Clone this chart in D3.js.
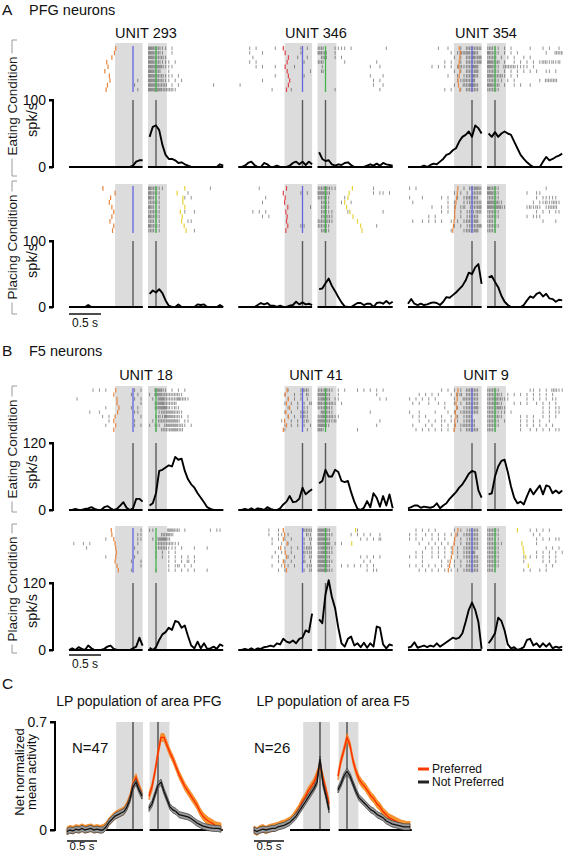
<!DOCTYPE html>
<html><head><meta charset="utf-8">
<script src="https://cdn.jsdelivr.net/npm/d3@7"></script>
<style>body{margin:0;background:#fff}svg{display:block}</style>
</head><body><svg id="chart" width="563" height="853"></svg>
<script>
// ---------- time grids (s) ----------
const tA1 = [-1.0,-0.95,-0.9,-0.85,-0.8,-0.75,-0.7,-0.65,-0.6,-0.55,-0.5,-0.45,-0.4,-0.35,-0.3,-0.25,-0.2,-0.15,-0.1,-0.05,0,0.05,0.1,0.15];
const tA2 = [-0.1,-0.05,0,0.05,0.1,0.15,0.2,0.25,0.3,0.35,0.4,0.45,0.5,0.55,0.6,0.65,0.7,0.75,0.8,0.85,0.9,0.95,1.0,1.05];
const tC1 = [-1.1,-1.05,-1.0,-0.95,-0.9,-0.85,-0.8,-0.75,-0.7,-0.65,-0.6,-0.55,-0.5,-0.45,-0.4,-0.35,-0.3,-0.25,-0.2,-0.15,-0.1,-0.05,0,0.05,0.1,0.15];
const tC2 = [-0.15,-0.1,-0.05,0,0.05,0.1,0.15,0.2,0.25,0.3,0.35,0.4,0.45,0.5,0.55,0.6,0.65,0.7,0.75,0.8,0.85,0.9,0.95,1.0,1.05];

// ---------- PSTH (spk/s) panel A ----------
const u293E1 = [0,0,0,0,0,0,0,0,0,0,0,0,0,0,0,0,0,0,0,0,2,8,10,10];
const u293E2 = [45,60,62,55,33,18,12,12,10,6,7,4,2,0,0,0,0,0,0,0,0,0,4,2];
const u346E1 = [0,0,2,6,8,3,0,0,6,4,0,0,2,0,0,0,2,6,8,4,8,3,8,4];
const u346E2 = [22,12,9,10,4,2,4,3,6,7,3,0,0,0,0,2,4,2,5,2,6,4,3,2];
const u354E1 = [0,0,0,0,0,2,0,3,5,4,8,12,18,20,25,28,38,45,48,53,45,62,58,50];
const u354E2 = [50,45,52,45,50,53,50,48,38,28,18,12,7,3,0,0,0,8,15,10,12,15,17,20];
const u293P1 = [0,0,0,0,0,0,3,0,0,0,0,0,0,0,0,0,0,0,0,0,0,0,0,0];
const u293P2 = [20,25,22,27,21,10,2,0,0,4,0,0,0,0,0,4,3,4,0,0,0,0,3,0];
const u346P1 = [0,0,0,0,0,0,3,6,4,6,2,2,0,2,0,0,2,3,8,4,7,4,5,3];
const u346P2 = [27,28,36,43,32,24,15,7,1,0,0,3,6,6,3,5,5,0,6,7,5,9,5,8];
const u354P1 = [5,12,5,3,5,3,4,6,7,6,3,8,15,14,18,22,27,32,40,52,50,60,65,35];
const u354P2 = [45,47,38,30,17,8,3,0,0,0,0,3,10,16,14,20,22,16,20,13,12,8,11,10];
// ---------- PSTH (spk/s) panel B ----------
const u18E1 = [0,0,2,0,0,2,3,5,2,0,0,5,7,3,0,2,8,14,4,0,3,20,20,15];
const u18E2 = [8,12,30,70,72,76,80,78,95,90,92,70,55,46,40,30,22,14,5,2,0,0,0,0];
const u41E1 = [0,0,2,0,3,0,3,2,0,5,2,0,0,3,10,15,25,14,15,20,40,28,33,37];
const u41E2 = [48,52,72,60,60,72,68,52,50,52,32,15,2,0,4,16,5,30,22,6,25,8,28,3];
const u9E1 = [3,5,8,8,4,6,5,4,6,12,3,8,12,20,26,32,40,46,55,65,70,68,35,22];
const u9E2 = [28,30,60,78,88,90,68,42,22,12,15,10,25,38,28,36,44,28,44,42,30,35,30,35];
const u18P1 = [0,3,0,5,2,0,8,3,0,0,0,2,6,8,2,0,0,0,0,0,3,6,22,8];
const u18P2 = [4,0,5,18,28,32,40,36,52,50,40,44,25,8,3,15,3,12,2,3,6,2,10,7];
const u41P1 = [0,0,2,0,3,0,3,2,5,6,8,6,12,10,20,15,13,17,12,20,22,35,32,65];
const u41P2 = [55,48,100,125,95,75,40,12,6,20,24,8,12,5,13,4,12,6,42,40,10,3,10,8];
const u9P1 = [4,6,14,4,6,8,5,8,6,12,6,10,14,18,22,20,22,30,50,72,85,72,50,2];
const u9P2 = [12,20,30,58,52,35,10,3,5,0,2,5,18,20,8,12,5,12,6,12,3,6,4,6];

// ---------- rasters: one string per trial, one char per 50 ms bin (digit = spikes) ----------
const r293E1 = [".......................",".......................",".......................",".......................",".......................",".......................",".......................",".....................1.","....................1..",".....................1."];
const r293E2 = ["332211.1","33221..1","332221","3322111.1","33332111","3322..1","33322111.1","3332211.1.1","333222.1.1..........1","333322221"];
const r346E1 = ["...1.1.....1.......1.1.","...1...1...........1...","....1.............1..1.","...1.1..............1..",".....1.1...1.....1.....","......................1","...........1........1..",".......1...............","1......................","..........1.....1......"];
const r346E2 = ["22...1111.1..........1","322..1",".22..1.1","221.....1.........1",".1..............1..1",".21","..1.............1...1","..1..............1.1","..1..............1..1",".....1.............1"];
const r354E1 = [".........1..1...1.22222",".............1.1223232.","..............1.1.22323","...........1.1..1.22223",".......1.1.1.1.1212233","..............1.1.2223","............1..1.12232","...............112223","..............1..22332","...........1.1..1.2222"];
const r354E2 = ["2211.1.1.....1...1.1..1","3221.1.1.1........1..222","222.1.1.1..1.1","3322.1..1.1.1.1.1221212","3321.22221111.1","2221.1.1.1.1.1.1..11.1","332221.1.1","22211.1.1.......1.2222","3322.1..1.1..1","2221"];
const r293P1 = [".......................",".......................",".......................",".......................",".......................",".......................",".......................",".......................",".......................","......................."];
const r293P2 = ["32211..............1","3221........1","3211.......1.1","2221","3211","2221.......1..1","3221","2211........11","3221","2211..........1"];
const r346P1 = ["......1................","...................1.1.","........1..............",".......1...............","......................1","....1.1.1..............",".......1.1.............",".......................","...................11..","......................."];
const r346P2 = ["222211...........1","3322.............1.11.1","2221....1",".221...1..1",".221",".2211....1..........1",".2221","22221","2221..............1",".221"];
const r354P1 = ["1.1..............1.2232","..............1.1.1.222","1...1.....1.1..1.12222",".1..........1.1..112222",".......1..1.1.1.12.1223","..........1.1.1.1.12122","......1.1.....1.1.1222",".1..1.1.1.1..1.1.12223","..............1.1.12223",".............1...12223"];
const r354P2 = ["3221..............1","3321........1..11","2221...........1.11111","33321.........1.1121221","333321......12121.1222","2221...........1.1.1.11","2221........1.111","221..............1...1","2221","221"];
const r18E1 = [".......1.1.1........1.1","...................1.1","..1.................1.1","......................1","...........1.......1.1.","......1..1..........11.","..........1.1.........1","............1.......1..","...........1........1.1","......................."];
const r18E2 = ["..3321.1.1.1","1.332222221",".1.3322223221","..2332222","..23332121","...12233221","..121333221.1",".1.2223332.11","1.21.2333221.1","..1.2223322"];
const r41E1 = ["...............1...122","..............1..1.1.2","...............1.1.1.1","..............1.1.1.1.2","...............1..1.11","..............1.1..121","...............1.1.121",".............1..1.1.12","..............1.1.1.1.1","..............1......1"];
const r41E2 = ["22221.1.1...1.1.1.1.1","3322..1...........1","2332.11............1.1","323221.1","22321",".3221...........1","2332211","332212.............1","3321..............1","321.........1"];
const r9E1 = ["..........1.1.1.1.2222","...1.1.1.1...1.12.2222","1.1.1.1.1.....1..22222",".1.1..1..1.1..1.1.2222","...........1...1.12223","1..1....1...1.1.122222",".1.1.1....1..1.1.122","...1..1.1.11.1.1.1222",".1...1.1..1.1.1.12222","..1.1.1.1.1.1.1.1.2222"];
const r9E2 = ["2221.........11.1.1.2211","22221.1.1.1.1.1.1.1.1","2232211.....1.1.1.1.11","22321...1.1.1..1.1.1.1","222321...........1.1.11","222111.1.........1.1.11","22221.....1.1.1..1.1.1","2221.1....1.1.1.1..1","2221......1.1.1.1.1.1","221.......1..1.1.1.1.11"];
const r18P1 = ["......................1",".....................11","...........1.........11",".1..1.1..............1",".....1..............1.",".....................1","...........1........1..","...................1..1","......................1","...................1..."];
const r18P2 = ["11....3322.1.......1.11","....2232.................1",".1.3332","..12222211","..1222111.1...1...1","..1.1.1.1","..1.1.1.1.1.1.1","......1.1.1.2.1","......1.12.1.1","..1...1.1.1.1.1...1"];
const r41P1 = [".........1..1.......222",".........1..11.1.....21","..........1.1.1.1...1.2","..........1..1.1....1.1","............1.1.1.1.122","...........1.1..1...212","..........1.1..1.1..1.2","............1.1.1...2.1","..........1..1.1.1...12","............1.1.....1.2"];
const r41P2 = ["3322........1","33221.....1.1.1.1..1","3332.........1.1.1.2","3333.1.1","23321","23321","3322.........1.1.1.1","33321.........1.1","3332...1.1.1.1.1.1","33321..........1.11"];
const r9P1 = ["..1.1.1.1.....1.1.1222","1.1..1.1.1.1.1.1.12222","1.1.1..1.1.1..1.1.1222","...1..1.1.1.1.1.1.2222",".....1.1.1.1.1.1.12222","..1.1..1.1.1.1.1.1223","1.1.1..1.1.1.1.1.12222","....1.....1.1.1.1.1222","1.1.1.1.1.1.1.1.1.2222","...1.1.1.1.1.1.1.12222"];
const r9P2 = ["2221.........1.1.1.1","2221..........1.1","2211...........1.1.1.11","22211..........1","2221..............1.1.1","2221...........1.1.1.1.1","2221.......1.1.1.1.1.1","2221.......1.....1.1.1","2221..............1.1","221........1.1..1.1"];

// ---------- behavioural event times per trial (s) ----------
const ev293E = [-0.27,-0.29,-0.33,-0.41,-0.39,-0.44,-0.37,-0.36,-0.4,-0.42];
const ev293P = [-0.47,-0.28,-0.35,-0.37,-0.33,-0.3,-0.33,-0.36,-0.3,-0.32];
const ev346E = [-0.3,-0.27,-0.22,-0.24,-0.27,-0.24,-0.22,-0.2,-0.22,-0.25];
const ev346P = [-0.25,-0.3,-0.27,-0.28,-0.23,-0.26,-0.24,-0.25,-0.23,-0.26];
const ev354E = [-0.2,-0.18,-0.19,-0.2,-0.21,-0.19,-0.2,-0.22,-0.21,-0.19];
const ev354P = [-0.22,-0.23,-0.24,-0.25,-0.26,-0.27,-0.27,-0.28,-0.29,-0.3];
const ev18E = [-0.27,-0.3,-0.25,-0.25,-0.22,-0.24,-0.28,-0.3,-0.27,-0.3];
const ev18P = [-0.34,-0.33,-0.3,-0.28,-0.27,-0.26,-0.27,-0.28,-0.25,-0.23];
const ev41E = [-0.24,-0.27,-0.22,-0.25,-0.2,-0.26,-0.22,-0.28,-0.25,-0.3];
const ev41P = [-0.3,-0.28,-0.3,-0.24,-0.34,-0.27,-0.25,-0.3,-0.28,-0.25];
const ev9E = [-0.22,-0.24,-0.23,-0.25,-0.24,-0.26,-0.25,-0.27,-0.26,-0.28];
const ev9P = [-0.22,-0.25,-0.27,-0.28,-0.3,-0.3,-0.32,-0.34,-0.35,-0.37];
const yel293P = [0.45,0.33,0.42,0.42,0.45,0.38,0.41,0.4,0.44,0.47];
const yel346P = [0.42,0.37,0.35,0.3,0.33,0.38,0.43,0.5,0.55,0.57];
const yel41P = [0.47,null,null,0.41,null,null,null,null,null,null];
const yel9P = [0.35,null,null,0.42,0.44,0.45,0.48,null,0.52,null];

// ---------- panel C population (net normalized) ----------
const pfgPref1 = [-0.005,0.005,0,0.01,0.005,0.015,0.005,0.01,0.015,0.005,0.01,0.005,0.01,0.025,0.055,0.075,0.095,0.105,0.115,0.125,0.16,0.21,0.3,0.34,0.28,0.23];
const pfgNon1  = [-0.01,0,-0.005,0.005,0,0.01,0,0.005,0.01,0,0.005,0,0,0.02,0.05,0.07,0.09,0.1,0.11,0.12,0.15,0.2,0.28,0.31,0.26,0.22];
const pfgPref2 = [0.22,0.28,0.38,0.5,0.6,0.6,0.55,0.5,0.46,0.41,0.36,0.32,0.28,0.25,0.22,0.19,0.16,0.12,0.09,0.07,0.055,0.045,0.03,0.025,0.02];
const pfgNon2  = [0.14,0.17,0.23,0.29,0.31,0.25,0.2,0.15,0.13,0.12,0.1,0.095,0.09,0.085,0.075,0.06,0.045,0.035,0.025,0.02,0.015,0.012,0.01,0.01,0.005];
const f5Pref1 = [0,-0.01,0.005,0.01,0,0.01,0.015,0.02,0.025,0.035,0.04,0.05,0.06,0.08,0.11,0.14,0.18,0.21,0.25,0.28,0.31,0.36,0.42,0.34,0.26,0.17];
const f5Non1  = [0,-0.01,0,0.005,0,0.005,0.01,0.01,0.02,0.025,0.03,0.04,0.05,0.07,0.09,0.12,0.15,0.18,0.21,0.24,0.27,0.31,0.46,0.3,0.22,0.13];
const f5Pref2 = [0.35,0.45,0.52,0.6,0.55,0.45,0.38,0.33,0.3,0.28,0.25,0.22,0.2,0.17,0.15,0.12,0.1,0.08,0.07,0.06,0.05,0.04,0.035,0.03,0.03];
const f5Non2  = [0.26,0.3,0.35,0.38,0.35,0.3,0.25,0.21,0.19,0.17,0.15,0.13,0.12,0.1,0.09,0.08,0.06,0.05,0.04,0.035,0.03,0.025,0.02,0.02,0.02];
const semPref = 0.025, semNon = 0.02;

const unitNamesA = ["UNIT 293","UNIT 346","UNIT 354"];
const unitNamesB = ["UNIT 18","UNIT 41","UNIT 9"];
const legendLabels = ["Preferred","Not Preferred"];

// ================= drawing =================
const svg = d3.select('#chart');
const FONT = "'Liberation Sans', Arial, Helvetica, sans-serif";
const ORANGE = '#e8843f', RED = '#e0444a', BLUE = '#6464dc', GREEN = '#46b24e', YELLOW = '#e6d23a';

function addText(x, y, str, size, anchor, rot, fill) {
  const t = svg.append('text').attr('font-family', FONT).attr('font-size', size)
    .attr('text-anchor', anchor || 'start').attr('fill', fill || '#111').text(str);
  if (rot) t.attr('transform', `translate(${x},${y}) rotate(${rot})`);
  else t.attr('x', x).attr('y', y);
  return t;
}
function bracket(y0, y1, cy, label) {
  const t = addText(17, cy, label, 13.5, 'middle', -90, '#1a1a1a');
  const len = t.node().getComputedTextLength();
  const a = cy - len / 2 - 3, b = cy + len / 2 + 3;
  svg.append('path').attr('d', `M17,${y0} H12 V${a} M12,${b} V${y1} H17`)
    .attr('fill', 'none').attr('stroke', '#9a9a9a').attr('stroke-width', 1);
}

const unitsA = [
  { eat: {p1: u293E1, p2: u293E2, r1: r293E1, r2: r293E2, ev: ev293E, evc: ORANGE, yel: null},
    place: {p1: u293P1, p2: u293P2, r1: r293P1, r2: r293P2, ev: ev293P, evc: ORANGE, yel: yel293P}},
  { eat: {p1: u346E1, p2: u346E2, r1: r346E1, r2: r346E2, ev: ev346E, evc: RED, yel: null},
    place: {p1: u346P1, p2: u346P2, r1: r346P1, r2: r346P2, ev: ev346P, evc: RED, yel: yel346P}},
  { eat: {p1: u354E1, p2: u354E2, r1: r354E1, r2: r354E2, ev: ev354E, evc: ORANGE, yel: null},
    place: {p1: u354P1, p2: u354P2, r1: r354P1, r2: r354P2, ev: ev354P, evc: ORANGE, yel: null}}
];
const unitsB = [
  { eat: {p1: u18E1, p2: u18E2, r1: r18E1, r2: r18E2, ev: ev18E, evc: ORANGE, yel: null},
    place: {p1: u18P1, p2: u18P2, r1: r18P1, r2: r18P2, ev: ev18P, evc: ORANGE, yel: null}},
  { eat: {p1: u41E1, p2: u41E2, r1: r41E1, r2: r41E2, ev: ev41E, evc: ORANGE, yel: null},
    place: {p1: u41P1, p2: u41P2, r1: r41P1, r2: r41P2, ev: ev41P, evc: ORANGE, yel: yel41P}},
  { eat: {p1: u9E1, p2: u9E2, r1: r9E1, r2: r9E2, ev: ev9E, evc: ORANGE, yel: null},
    place: {p1: u9P1, p2: u9P2, r1: r9P1, r2: r9P2, ev: ev9P, evc: ORANGE, yel: yel9P}}
];

const SEG1 = [-1.0, 0.15], SEG2 = [-0.125, 1.05];

function drawRaster(g, rows, t0, nb, xs, top, rowH) {
  rows.forEach((s, r) => {
    const str = s.padEnd(nb, '.').slice(0, nb);
    for (let b = 0; b < nb; b++) {
      const n = +str[b] || 0;
      for (let m = 0; m < n; m++) {
        const t = t0 + 0.05 * (b + (m + 0.5) / n);
        const x = xs(t);
        g.append('line').attr('x1', x).attr('x2', x)
          .attr('y1', top + r * rowH + 0.5).attr('y2', top + r * rowH + rowH - 0.6)
          .attr('stroke', '#444').attr('stroke-width', 0.8).attr('stroke-opacity', 0.72);
      }
    }
  });
}
function eventTicks(g, times, xs, top, rowH, color) {
  times.forEach((t, r) => {
    if (t === null) return;
    const x = xs(t);
    g.append('line').attr('x1', x).attr('x2', x)
      .attr('y1', top + r * rowH).attr('y2', top + r * rowH + rowH)
      .attr('stroke', color).attr('stroke-width', 1.2);
  });
}

function drawABRow(units, cfg) {
  const cond = cfg.cond;
  units.forEach((u, col) => {
    const d = u[cond];
    const L1 = 133 + col * 169.5, L2 = 156 + col * 169.5;
    const x1 = d3.scaleLinear().domain([-1, 0]).range([L1 - 64, L1]);
    const x2 = d3.scaleLinear().domain([0, 1]).range([L2, L2 + 64]);
    const y = d3.scaleLinear().domain([0, cfg.ymax]).range([cfg.base, cfg.yTop]);
    const g = svg.append('g');
    const rTop = cfg.rasterTop, rowH = cfg.rowH, rBot = rTop + 10 * rowH;
    // shaded epochs
    g.append('rect').attr('x', x1(-0.28)).attr('y', cfg.grayTop).attr('width', x1(SEG1[1]) - x1(-0.28))
      .attr('height', cfg.base - cfg.grayTop).attr('fill', '#dcdcdc');
    g.append('rect').attr('x', x2(SEG2[0])).attr('y', cfg.grayTop).attr('width', x2(0.17) - x2(SEG2[0]))
      .attr('height', cfg.base - cfg.grayTop).attr('fill', '#dcdcdc');
    // rasters
    drawRaster(g, d.r1, SEG1[0], 23, x1, rTop, rowH);
    drawRaster(g, d.r2, SEG2[0], 24, x2, rTop, rowH);
    eventTicks(g, d.ev, x1, rTop, rowH, d.evc);
    if (d.yel) eventTicks(g, d.yel, x2, rTop, rowH, YELLOW);
    g.append('line').attr('x1', x1(0)).attr('x2', x1(0)).attr('y1', rTop).attr('y2', rBot)
      .attr('stroke', BLUE).attr('stroke-width', 1.3);
    g.append('line').attr('x1', x2(0)).attr('x2', x2(0)).attr('y1', rTop).attr('y2', rBot)
      .attr('stroke', GREEN).attr('stroke-width', 1.3);
    // alignment lines
    [x1(0), x2(0)].forEach(x => g.append('line').attr('x1', x).attr('x2', x)
      .attr('y1', cfg.yTop).attr('y2', cfg.base).attr('stroke', '#5a5a5a').attr('stroke-width', 1.4));
    // baselines
    g.append('line').attr('x1', x1(SEG1[0])).attr('x2', x1(SEG1[1])).attr('y1', cfg.base).attr('y2', cfg.base)
      .attr('stroke', '#000').attr('stroke-width', 2);
    g.append('line').attr('x1', x2(SEG2[0])).attr('x2', x2(SEG2[1])).attr('y1', cfg.base).attr('y2', cfg.base)
      .attr('stroke', '#000').attr('stroke-width', 2);
    // PSTH
    const l1 = d3.line().x((v, i) => x1(tA1[i])).y(v => y(v));
    const l2 = d3.line().x((v, i) => x2(tA2[i])).y(v => y(v));
    g.append('path').attr('d', l1(d.p1)).attr('fill', 'none').attr('stroke', '#000').attr('stroke-width', 1.9).attr('stroke-linejoin', 'round');
    g.append('path').attr('d', l2(d.p2)).attr('fill', 'none').attr('stroke', '#000').attr('stroke-width', 1.9).attr('stroke-linejoin', 'round');
    if (col === 0) {
      const ax = svg.append('g').attr('transform', 'translate(53,0)')
        .call(d3.axisLeft(y).tickValues([0, cfg.ymax]).tickSize(4).tickPadding(3));
      ax.select('.domain').attr('stroke-width', 2).attr('d', `M-4,${cfg.yTop}H0V${cfg.base}H-4`);
      ax.selectAll('.tick line').attr('stroke-width', 2);
      ax.selectAll('text').attr('font-family', FONT).attr('font-size', 14).attr('fill', '#111');
      if (cfg.scaleBar) {
        svg.append('line').attr('x1', x1(-1)).attr('x2', x1(-0.5)).attr('y1', cfg.scaleBar).attr('y2', cfg.scaleBar)
          .attr('stroke', '#000').attr('stroke-width', 1.4);
        addText((x1(-1) + x1(-0.5)) / 2, cfg.scaleBar + 13, '0.5 s', 12, 'middle');
      }
    }
  });
  bracket(cfg.br[0], cfg.br[1], cfg.labelY, cfg.label);
  addText(37, cfg.spkY, 'spk/s', 14.5, 'middle', -90);
}

// Panel A
addText(2, 15, 'A', 15.5);
addText(29, 15, 'PFG neurons', 14.5);
unitNamesA.forEach((n, i) => addText(146 + i * 170, 38, n, 14.5, 'middle'));
drawABRow(unitsA, {cond: 'eat', rasterTop: 46, rowH: 4.6, grayTop: 43, yTop: 100, base: 167, ymax: 100, br: [40, 176], labelY: 106, label: 'Eating Condition', spkY: 120});
drawABRow(unitsA, {cond: 'place', rasterTop: 186, rowH: 4.7, grayTop: 184, yTop: 241, base: 307, ymax: 100, br: [181, 314], labelY: 247, label: 'Placing Condition', spkY: 261, scaleBar: 314});

// Panel B
addText(2, 356, 'B', 15.5);
addText(29, 356, 'F5 neurons', 14.5);
unitNamesB.forEach((n, i) => addText(146 + i * 170, 380, n, 14.5, 'middle'));
drawABRow(unitsB, {cond: 'eat', rasterTop: 388, rowH: 4.4, grayTop: 386, yTop: 443, base: 510, ymax: 120, br: [386, 512], labelY: 449, label: 'Eating Condition', spkY: 472});
drawABRow(unitsB, {cond: 'place', rasterTop: 528, rowH: 4.45, grayTop: 526, yTop: 583, base: 650, ymax: 120, br: [524, 653], labelY: 589, label: 'Placing Condition', spkY: 611, scaleBar: 655});

// Panel C
addText(2, 689, 'C', 15.5);
const yC = d3.scaleLinear().domain([0, 0.7]).range([830, 722]);
const popPanels = [
  {title: 'LP population of area PFG', tx: 139, L1: 133, L2: 158, n: 'N=47', nx: 72, pref1: pfgPref1, non1: pfgNon1, pref2: pfgPref2, non2: pfgNon2},
  {title: 'LP population of area F5', tx: 333, L1: 320, L2: 347, n: 'N=26', nx: 254, pref1: f5Pref1, non1: f5Non1, pref2: f5Pref2, non2: f5Non2}
];
popPanels.forEach((p, k) => {
  addText(p.tx, 706, p.title, 14, 'middle');
  addText(p.nx, 753, p.n, 15);
  const x1 = d3.scaleLinear().domain([-1, 0]).range([p.L1 - 60, p.L1]);
  const x2 = d3.scaleLinear().domain([0, 1]).range([p.L2, p.L2 + 60]);
  const s1 = [-1.11, 0.167], s2 = [-0.14, 1.08];
  const g = svg.append('g');
  g.append('rect').attr('x', x1(-0.28)).attr('y', 722).attr('width', x1(s1[1]) - x1(-0.28)).attr('height', 108).attr('fill', '#dcdcdc');
  g.append('rect').attr('x', x2(s2[0])).attr('y', 722).attr('width', x2(0.19) - x2(s2[0])).attr('height', 108).attr('fill', '#dcdcdc');
  [x1(0), x2(0)].forEach(x => g.append('line').attr('x1', x).attr('x2', x).attr('y1', 722).attr('y2', 830)
    .attr('stroke', '#333').attr('stroke-width', 1.2));
  g.append('line').attr('x1', x1(-0.5)).attr('x2', x1(s1[1])).attr('y1', 830).attr('y2', 830).attr('stroke', '#000').attr('stroke-width', 1.8);
  g.append('line').attr('x1', x2(s2[0])).attr('x2', x2(s2[1])).attr('y1', 830).attr('y2', 830).attr('stroke', '#000').attr('stroke-width', 1.8);
  const series = [
    {v1: p.pref1, v2: p.pref2, sem: semPref, fill: '#f7962a', edge: '#f07a1a', line: '#ff2a00'},
    {v1: p.non1, v2: p.non2, sem: semNon, fill: '#9a9a9a', edge: '#3a3a3a', line: '#111'}
  ];
  series.forEach(s => {
    [[s.v1, tC1, x1], [s.v2, tC2, x2]].forEach(([vals, ts, xs]) => {
      const area = d3.area().x((v, i) => xs(ts[i])).y0(v => yC(v - s.sem)).y1(v => yC(v + s.sem));
      g.append('path').attr('d', area(vals)).attr('fill', s.fill).attr('stroke', s.edge).attr('stroke-width', 0.7);
      const line = d3.line().x((v, i) => xs(ts[i])).y(v => yC(v));
      g.append('path').attr('d', line(vals)).attr('fill', 'none').attr('stroke', s.line).attr('stroke-width', 1.3);
    });
  });
  svg.append('line').attr('x1', x1(-1.1)).attr('x2', x1(-0.6)).attr('y1', 841).attr('y2', 841).attr('stroke', '#000').attr('stroke-width', 1.4);
  addText((x1(-1.1) + x1(-0.6)) / 2, 850, '0.5 s', 11.5, 'middle');
  if (k === 0) {
    const ax = svg.append('g').attr('transform', 'translate(55,0)')
      .call(d3.axisLeft(yC).tickValues([0, 0.7]).tickFormat(d3.format('')).tickSize(5).tickPadding(3));
    ax.select('.domain').attr('stroke-width', 2).attr('d', 'M-5,722H0V830H-5');
    ax.selectAll('.tick line').attr('stroke-width', 2);
    ax.selectAll('text').attr('font-family', FONT).attr('font-size', 14).attr('fill', '#111');
  }
});
addText(24, 772, 'Net normalized', 13, 'middle', -90);
addText(36, 772, 'mean activity', 13, 'middle', -90);
const legColors = ['#ff3a00', '#222'];
legendLabels.forEach((lab, i) => {
  const yy = 769 + i * 13;
  svg.append('line').attr('x1', 418).attr('x2', 429).attr('y1', yy).attr('y2', yy).attr('stroke', legColors[i]).attr('stroke-width', 3);
  addText(432, yy + 4, lab, 12);
});
</script></body></html>
